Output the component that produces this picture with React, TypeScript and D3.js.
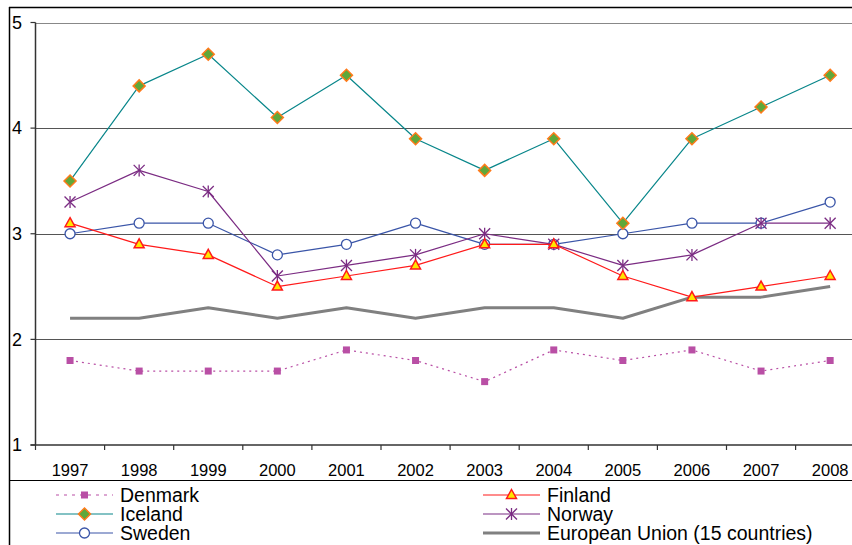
import React from "react";
import * as d3 from "d3";

const years = ["1997", "1998", "1999", "2000", "2001", "2002", "2003", "2004", "2005", "2006", "2007", "2008"];
const denmark = [1.8, 1.7, 1.7, 1.7, 1.9, 1.8, 1.6, 1.9, 1.8, 1.9, 1.7, 1.8];
const finland = [3.1, 2.9, 2.8, 2.5, 2.6, 2.7, 2.9, 2.9, 2.6, 2.4, 2.5, 2.6];
const iceland = [3.5, 4.4, 4.7, 4.1, 4.5, 3.9, 3.6, 3.9, 3.1, 3.9, 4.2, 4.5];
const norway = [3.3, 3.6, 3.4, 2.6, 2.7, 2.8, 3.0, 2.9, 2.7, 2.8, 3.1, 3.1];
const sweden = [3.0, 3.1, 3.1, 2.8, 2.9, 3.1, 2.9, 2.9, 3.0, 3.1, 3.1, 3.3];
const eu15 = [2.2, 2.2, 2.3, 2.2, 2.3, 2.2, 2.3, 2.3, 2.2, 2.4, 2.4, 2.5];
const yTicks = [1, 2, 3, 4, 5];

type Marker = "square" | "triangle" | "diamond" | "star" | "circle" | "none";
interface Series {
  name: string;
  values: number[];
  line: string;
  width: number;
  dash?: string;
  legendDash?: string;
  marker: Marker;
}

const series: Series[] = [
  { name: "European Union (15 countries)", values: eu15, line: "#808080", width: 3, marker: "none" },
  { name: "Denmark", values: denmark, line: "#B94FA5", width: 1.2, dash: "2,4", legendDash: "3,5", marker: "square" },
  { name: "Sweden", values: sweden, line: "#3A55A8", width: 1.2, marker: "circle" },
  { name: "Norway", values: norway, line: "#7B2C83", width: 1.2, marker: "star" },
  { name: "Finland", values: finland, line: "#FF1A1A", width: 1.2, marker: "triangle" },
  { name: "Iceland", values: iceland, line: "#08868A", width: 1.2, marker: "diamond" },
];

const legendOrder = [
  ["Denmark", "Finland"],
  ["Iceland", "Norway"],
  ["Sweden", "European Union (15 countries)"],
];

const left = 35.5;
const band = 69.1;
const x = d3
  .scaleBand<string>()
  .domain(years)
  .range([left, left + band * years.length]);
const y = d3.scaleLinear().domain([1, 5]).range([445, 22.5]);

function MarkerShape({ kind, cx, cy, color }: { kind: Marker; cx: number; cy: number; color: string }) {
  switch (kind) {
    case "square":
      return <rect x={cx - 3.5} y={cy - 3.5} width={7} height={7} fill="#B94FA5" />;
    case "triangle":
      return (
        <path
          d={`M${cx},${cy - 5.5}L${cx + 5},${cy + 3.5}L${cx - 5},${cy + 3.5}Z`}
          fill="#FFE600"
          stroke="#FF1A1A"
          strokeWidth={1.5}
        />
      );
    case "diamond":
      return (
        <path
          d={`M${cx},${cy - 6}L${cx + 6},${cy}L${cx},${cy + 6}L${cx - 6},${cy}Z`}
          fill="#5FA83A"
          stroke="#FF7A1A"
          strokeWidth={1.5}
        />
      );
    case "circle":
      return <circle cx={cx} cy={cy} r={5} fill="white" stroke="#3A55A8" strokeWidth={1.3} />;
    case "star":
      return (
        <g stroke={color} strokeWidth={1.3}>
          <line x1={cx} y1={cy - 6} x2={cx} y2={cy + 6} />
          <line x1={cx - 5.5} y1={cy - 5.5} x2={cx + 5.5} y2={cy + 5.5} />
          <line x1={cx - 5.5} y1={cy + 5.5} x2={cx + 5.5} y2={cy - 5.5} />
        </g>
      );
    default:
      return null;
  }
}

export default function App() {
  const lineGen = d3
    .line<number>()
    .x((_, i) => (x(years[i]) as number) + x.bandwidth() / 2)
    .y((d) => y(d));
  const byName = new Map(series.map((s) => [s.name, s]));
  const font = "'Liberation Sans', Arial, sans-serif";
  const boundaries = d3.range(years.length + 1).map((i) => left + i * band);

  return (
    <svg
      width={852}
      height={545}
      style={{ position: "absolute", left: 0, top: 0, background: "white" }}
      fontFamily={font}
    >
      {/* outer frame */}
      <line x1={9.5} y1={7} x2={9.5} y2={545} stroke="#000" strokeWidth={1.5} />
      <line x1={9} y1={7.5} x2={852} y2={7.5} stroke="#000" strokeWidth={1.5} />

      {/* horizontal gridlines */}
      {yTicks.slice(1).map((t) => (
        <line
          key={t}
          x1={left}
          x2={852}
          y1={Math.round(y(t)) + 0.5}
          y2={Math.round(y(t)) + 0.5}
          stroke={t === 5 ? "#888" : "#555"}
          strokeWidth={1}
        />
      ))}

      {/* y axis */}
      <line x1={left} x2={left} y1={y(5)} y2={y(1)} stroke="#333" strokeWidth={1.5} />
      {yTicks.map((t) => (
        <g key={t}>
          <line x1={left - 5} x2={left} y1={y(t)} y2={y(t)} stroke="#333" strokeWidth={1.2} />
          <text x={12} y={y(t)} dy="0.35em" fontSize={18} fill="#000">
            {t}
          </text>
        </g>
      ))}

      {/* x axis */}
      <line x1={left - 5} x2={852} y1={y(1)} y2={y(1)} stroke="#333" strokeWidth={1.5} />
      {boundaries.map((b, i) => (
        <line key={i} x1={b} x2={b} y1={y(1)} y2={y(1) + 5} stroke="#333" strokeWidth={1.2} />
      ))}
      {years.map((yr) => (
        <text
          key={yr}
          x={(x(yr) as number) + x.bandwidth() / 2}
          y={470}
          dy="0.35em"
          textAnchor="middle"
          fontSize={16.5}
          fill="#000"
        >
          {yr}
        </text>
      ))}

      {/* series */}
      {series.map((s) => (
        <g key={s.name}>
          <path
            d={lineGen(s.values) || ""}
            fill="none"
            stroke={s.line}
            strokeWidth={s.width}
            strokeDasharray={s.dash}
            strokeLinejoin="round"
          />
          {s.values.map((v, i) => (
            <MarkerShape
              key={i}
              kind={s.marker}
              cx={(x(years[i]) as number) + x.bandwidth() / 2}
              cy={y(v)}
              color={s.line}
            />
          ))}
        </g>
      ))}

      {/* legend */}
      <line x1={9} x2={852} y1={480.5} y2={480.5} stroke="#000" strokeWidth={1.2} />
      {legendOrder.map((row, r) =>
        row.map((name, c) => {
          const s = byName.get(name)!;
          const lx = c === 0 ? 56 : 483;
          const ly = 495 + r * 19;
          return (
            <g key={name}>
              <line
                x1={lx}
                x2={lx + 57}
                y1={ly}
                y2={ly}
                stroke={s.line}
                strokeWidth={s.width}
                strokeDasharray={s.legendDash ?? s.dash}
              />
              <MarkerShape kind={s.marker} cx={lx + 28.5} cy={ly} color={s.line} />
              <text x={lx + 64} y={ly} dy="0.35em" fontSize={19.5} fill="#000">
                {name}
              </text>
            </g>
          );
        })
      )}
    </svg>
  );
}
